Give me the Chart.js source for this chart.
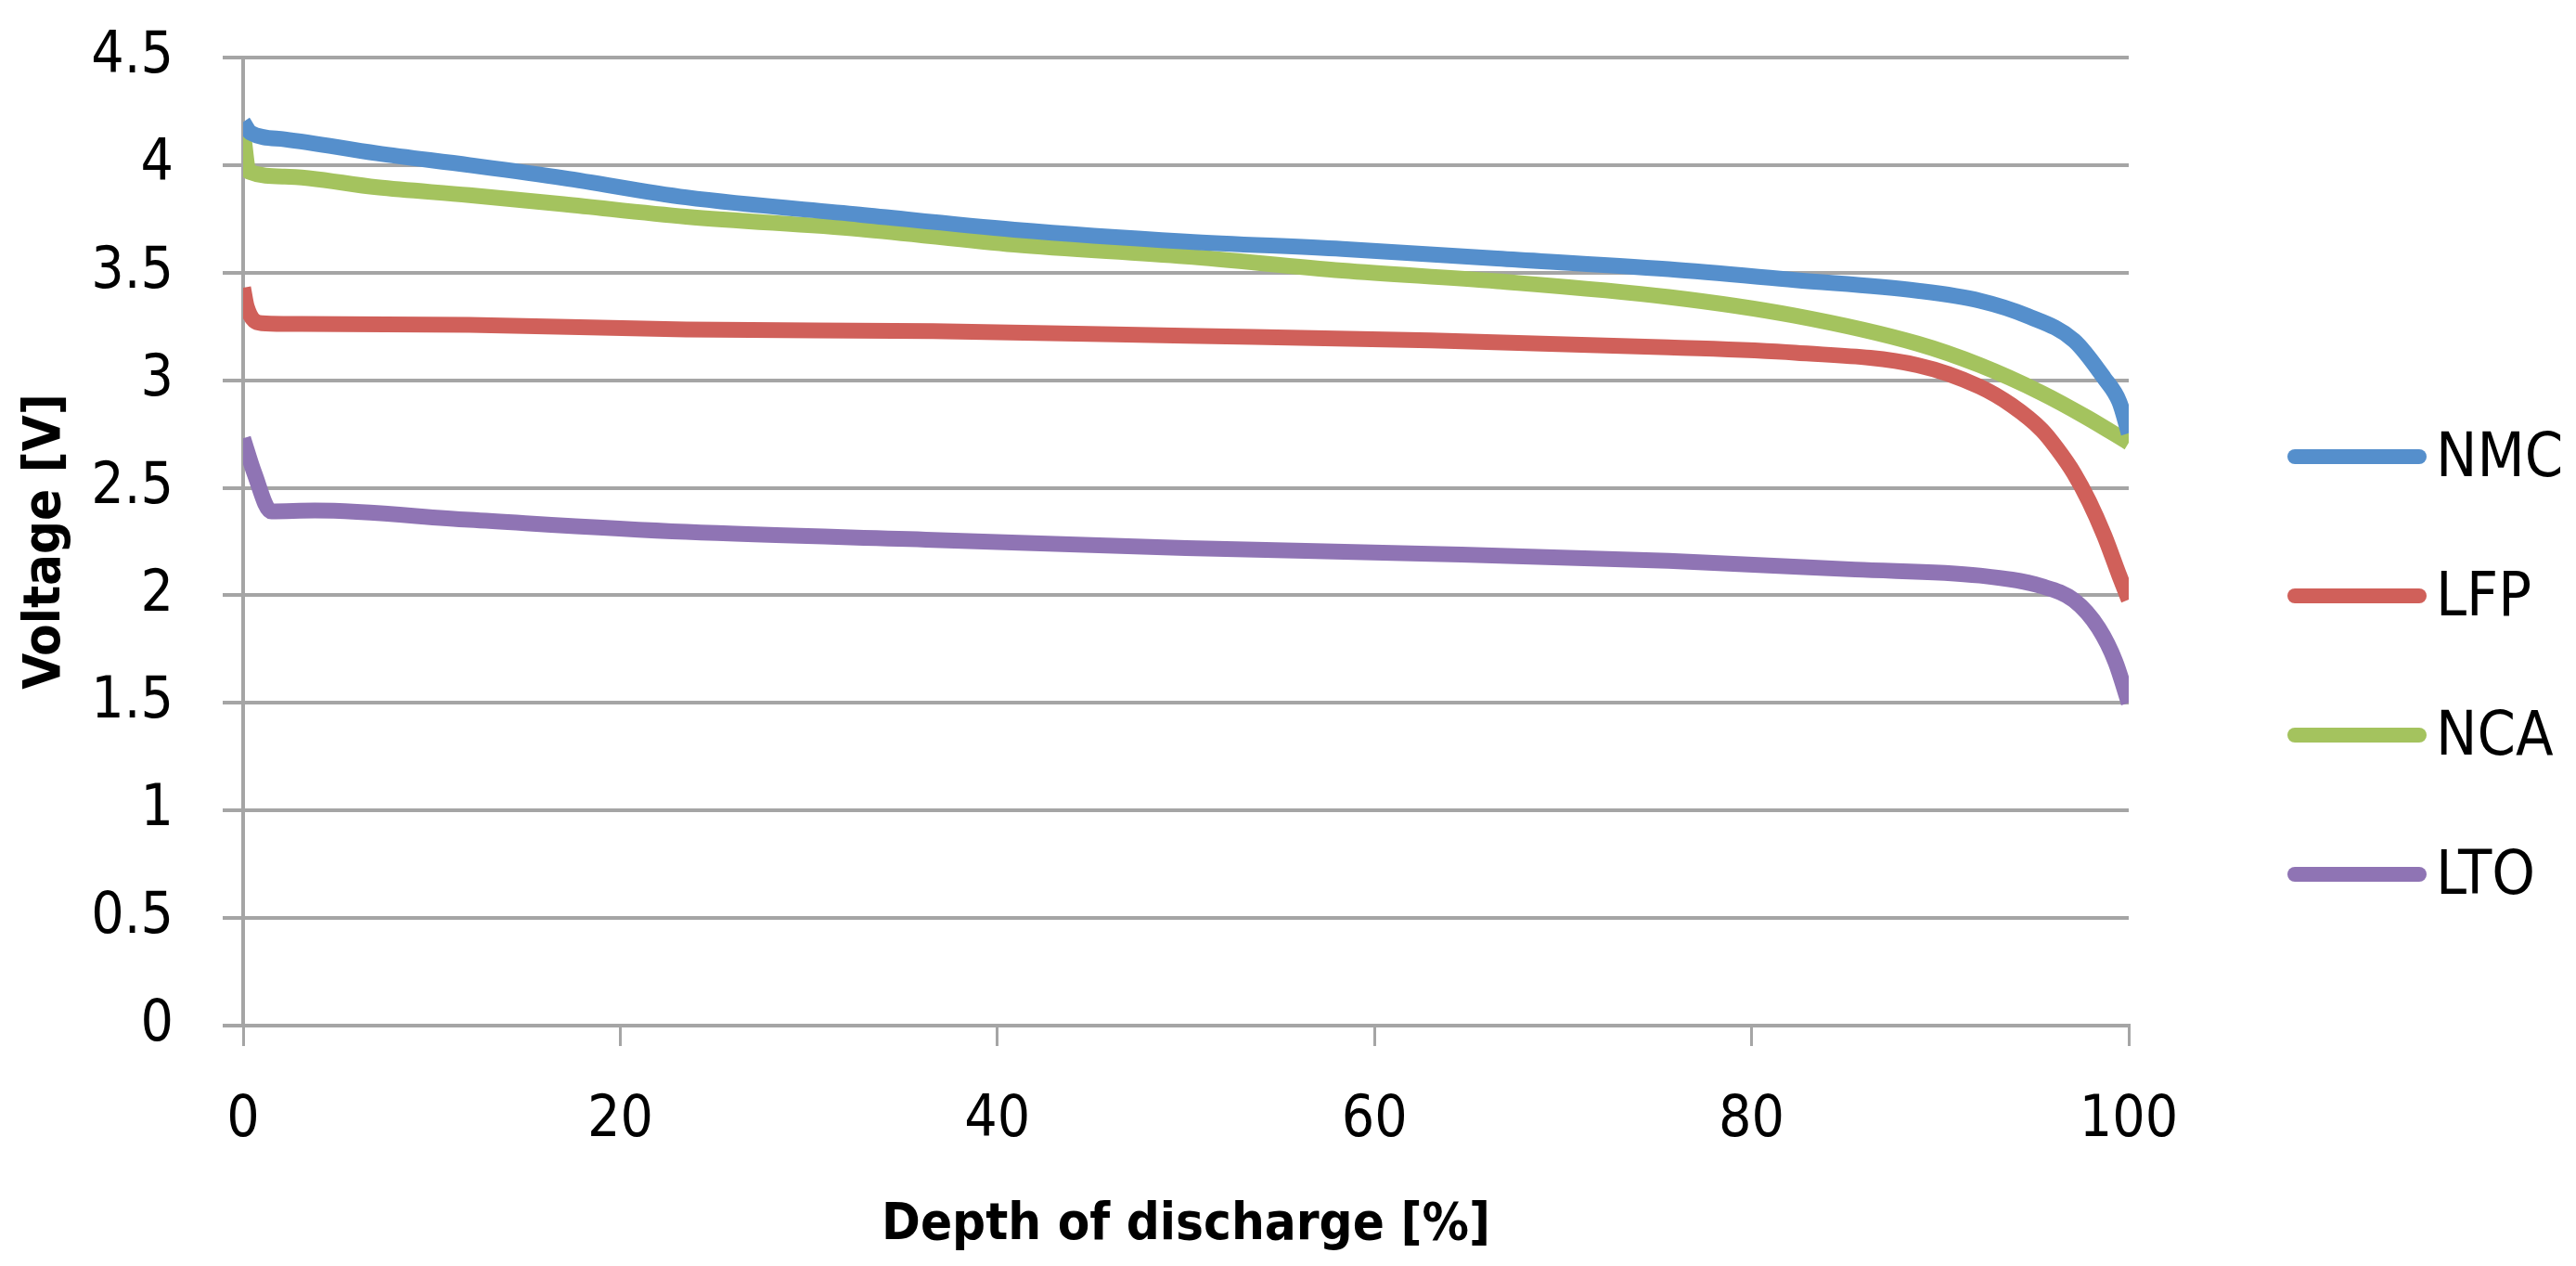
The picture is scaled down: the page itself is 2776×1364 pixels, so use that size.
<!DOCTYPE html>
<html>
<head>
<meta charset="utf-8">
<script src="https://cdn.jsdelivr.net/npm/chart.js@4.4.1/dist/chart.umd.min.js"></script>
<style>
  html, body { margin: 0; padding: 0; background: #ffffff; }
  #chart { display: block; }
</style>
</head>
<body>
<canvas id="chart" width="2776" height="1364"></canvas>
<script>
// values
const seriesNames = ["NMC", "LFP", "NCA", "LTO"];

const nmcDod = [0, 0.4, 2.2, 7.1, 12, 17, 23.5, 32.7, 40.9, 50, 58.3, 66.5, 75.6, 82.3, 88.8, 92.1, 94.6, 97.1, 98.7, 99.5, 100];
const nmcVolt = [4.2, 4.15, 4.12, 4.055, 4.0, 3.94, 3.85, 3.77, 3.7, 3.645, 3.61, 3.566, 3.516, 3.466, 3.416, 3.37, 3.3, 3.185, 3.01, 2.9, 2.754];

const lfpDod = [0, 0.2, 1, 2.2, 12, 23.5, 36.6, 50, 63, 75.6, 82.3, 88.8, 92.1, 93.8, 95.4, 96.2, 97.1, 97.9, 98.7, 99.5, 100];
const lfpVolt = [3.43, 3.34, 3.265, 3.262, 3.257, 3.236, 3.228, 3.207, 3.185, 3.153, 3.128, 3.07, 2.97, 2.883, 2.768, 2.682, 2.567, 2.437, 2.279, 2.092, 1.98];

const ncaDod = [0, 0.3, 2.2, 7.1, 12, 17, 23.5, 32.7, 40.9, 50, 58.3, 66.5, 75.6, 82.3, 88.8, 92.1, 95.4, 97.8, 100];
const ncaVolt = [4.15, 3.97, 3.947, 3.897, 3.86, 3.818, 3.76, 3.703, 3.63, 3.575, 3.51, 3.46, 3.387, 3.3, 3.17, 3.07, 2.94, 2.826, 2.71];

const ltoDod = [0, 0.6, 1.5, 3.8, 12, 23.5, 36.6, 50, 63, 75.6, 85.5, 92.1, 95.4, 97.1, 98.4, 99.3, 100];
const ltoVolt = [2.73, 2.567, 2.39, 2.394, 2.351, 2.295, 2.258, 2.22, 2.193, 2.16, 2.12, 2.092, 2.042, 1.977, 1.848, 1.69, 1.5];

const xTicks = [0, 20, 40, 60, 80, 100];
const yTicks = [0, 0.5, 1, 1.5, 2, 2.5, 3, 3.5, 4, 4.5];

const colors = ["#558fcc", "#d0605a", "#a4c35e", "#8f74b4"];
const FONT = "'Liberation Sans Narrow', 'DejaVu Sans Condensed', 'Liberation Sans', sans-serif";
const GRID = "#a5a5a5";

function points(xs, ys) {
  return xs.map((x, i) => ({ x: x, y: ys[i] }));
}

// legend on the right, drawn from the datasets
const sideLegend = {
  id: "sideLegend",
  afterDraw(chart) {
    const ctx = chart.ctx;
    const lineX0 = 2465, lineX1 = 2615, textX = 2625;
    const top = 492, step = 150;
    ctx.save();
    chart.data.datasets.forEach((ds, i) => {
      const y = top + i * step;
      ctx.strokeStyle = ds.borderColor;
      ctx.lineWidth = 16;
      ctx.lineCap = "round";
      ctx.beginPath();
      ctx.moveTo(lineX0 + 8, y);
      ctx.lineTo(lineX1 - 8, y);
      ctx.stroke();
      ctx.fillStyle = "#000000";
      ctx.font = "66px " + FONT;
      ctx.textAlign = "left";
      ctx.textBaseline = "middle";
      ctx.fillText(ds.label, textX, y + 4);
    });
    ctx.restore();
  },
};

const allDod = [nmcDod, lfpDod, ncaDod, ltoDod];
const allVolt = [nmcVolt, lfpVolt, ncaVolt, ltoVolt];

const datasets = seriesNames.map((name, i) => ({
  label: name,
  data: points(allDod[i], allVolt[i]),
  borderColor: colors[i],
  backgroundColor: colors[i],
  borderWidth: 17,
  pointRadius: 0,
  showLine: true,
  fill: false,
  cubicInterpolationMode: "monotone",
}));

Chart.defaults.font.family = FONT;
Chart.defaults.color = "#000000";

new Chart(document.getElementById("chart"), {
  type: "scatter",
  data: { datasets: datasets },
  options: {
    responsive: false,
    animation: false,
    devicePixelRatio: 1,
    layout: { padding: { top: 62, right: 482, bottom: 0, left: 0 } },
    plugins: {
      legend: { display: false },
      tooltip: { enabled: false },
    },
    scales: {
      x: {
        type: "linear",
        min: 0,
        max: 100,
        afterBuildTicks: (scale) => { scale.ticks = xTicks.map((v) => ({ value: v })); },
        afterFit: (scale) => { scale.height = 259; },
        ticks: { font: { size: 62 }, color: "#000000", padding: 44, maxRotation: 0 },
        grid: { drawOnChartArea: false, drawTicks: true, tickLength: 22, color: GRID, lineWidth: 3 },
        border: { display: true, color: GRID, width: 4 },
        title: {
          display: true,
          text: "Depth of discharge [%]",
          font: { size: 56, weight: "bold" },
          color: "#000000",
          padding: { top: 0, bottom: 10 },
        },
      },
      y: {
        type: "linear",
        min: 0,
        max: 4.5,
        afterBuildTicks: (scale) => { scale.ticks = yTicks.map((v) => ({ value: v })); },
        afterFit: (scale) => {
          scale.width = 262;
          scale.paddingTop = 0;
          scale.paddingBottom = 0;
        },
        ticks: { font: { size: 62 }, color: "#000000", padding: 53, callback: (v) => String(v) },
        grid: { drawTicks: true, tickLength: 22, color: GRID, lineWidth: 4 },
        border: { display: true, color: GRID, width: 4 },
        title: {
          display: true,
          text: "Voltage [V]",
          font: { size: 56, weight: "bold" },
          color: "#000000",
          padding: { top: 16, bottom: 0 },
        },
      },
    },
  },
  plugins: [sideLegend],
});
</script>
</body>
</html>
